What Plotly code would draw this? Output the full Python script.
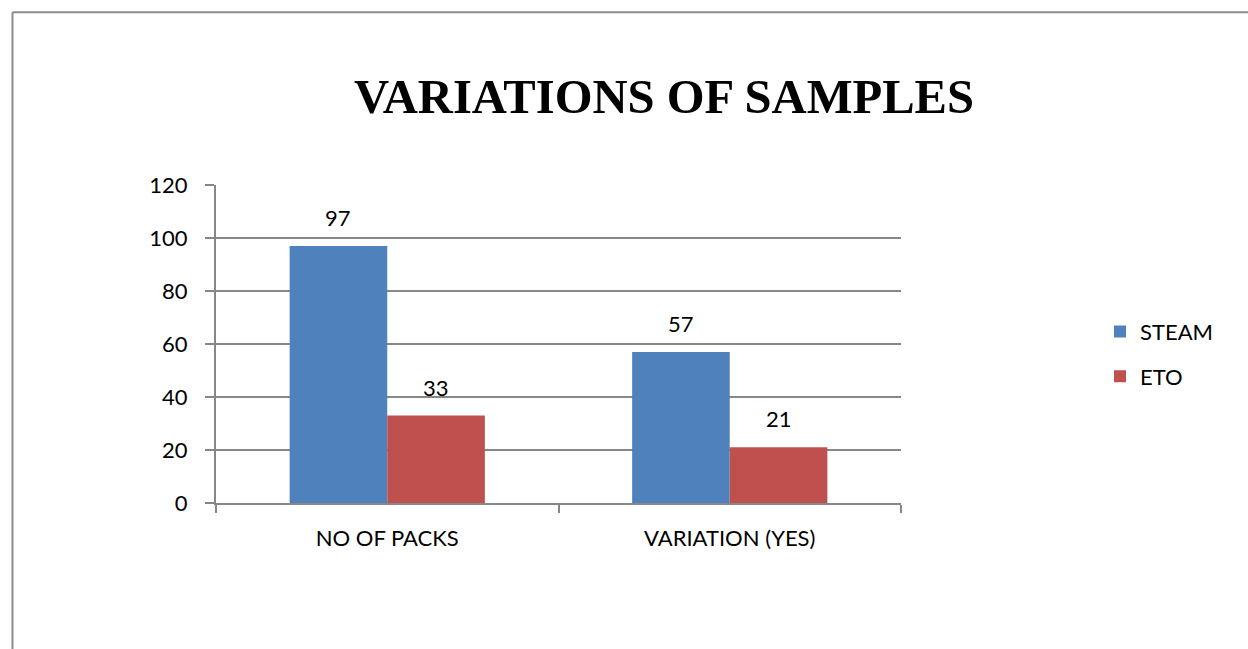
import plotly.graph_objects as go

# Chart data
categories = ["NO OF PACKS", "VARIATION (YES)"]
steam_values = [97, 57]
eto_values = [33, 21]
y_ticks = [0, 20, 40, 60, 80, 100, 120]

STEAM_COLOR = "#4F81BD"
ETO_COLOR = "#C0504D"
GRID = "#878787"
LABEL_FONT = "Lato"
FS = 22

W, H = 1248, 649
L, R, T, B = 216, 347, 185, 145.5
plot_w = W - L - R
plot_h = H - T - B

fig = go.Figure()
fig.add_trace(go.Bar(name="STEAM", x=categories, y=steam_values,
                     marker=dict(color=STEAM_COLOR, line=dict(width=0)),
                     legendgroup="a"))
fig.add_trace(go.Bar(name="ETO", x=categories, y=eto_values,
                     marker=dict(color=ETO_COLOR, line=dict(width=0)),
                     legendgroup="b"))

# value labels above each bar
bar_px = plot_w / 2 * 0.57 / 2
for vals, shift in ((steam_values, -bar_px / 2), (eto_values, bar_px / 2)):
    for cat, v in zip(categories, vals):
        fig.add_annotation(x=cat, y=v, text=str(v), showarrow=False,
                           xshift=shift, yshift=13, yanchor="bottom",
                           font=dict(family=LABEL_FONT, size=FS, color="#000"))

# outer frame (left and top edges)
def px_x(x):
    return (x - L) / plot_w

def px_y(y):
    return (H - B - y) / plot_h

fig.add_shape(type="line", xref="paper", yref="paper",
              x0=px_x(12.5), x1=px_x(12.5), y0=px_y(12), y1=px_y(660),
              line=dict(color="#8c8c8c", width=2))
fig.add_shape(type="line", xref="paper", yref="paper",
              x0=px_x(12.5), x1=px_x(1260), y0=px_y(12), y1=px_y(12),
              line=dict(color="#8c8c8c", width=2))

fig.update_layout(
    width=W, height=H,
    margin=dict(l=L, r=R, t=T, b=B, pad=0),
    paper_bgcolor="white", plot_bgcolor="white",
    barmode="group", bargap=0.43, bargroupgap=0,
    title=dict(text="<b>VARIATIONS OF SAMPLES</b>",
               font=dict(family="Liberation Serif", size=48.6, color="#000"),
               xref="container", yref="container",
               x=664 / W, xanchor="center", y=1 - 96 / H, yanchor="middle"),
    legend=dict(x=px_x(1100), y=px_y(311), xanchor="left", yanchor="top",
                traceorder="grouped", tracegroupgap=13,
                font=dict(family=LABEL_FONT, size=FS, color="#000"),
                bgcolor="rgba(0,0,0,0)"),
    font=dict(family=LABEL_FONT, size=FS, color="#000"),
)

fig.update_yaxes(range=[0, 120], tickvals=y_ticks, showgrid=True,
                 gridcolor=GRID, gridwidth=2, showline=True, linecolor=GRID,
                 linewidth=2, ticks="outside", ticklen=9, tickcolor=GRID,
                 tickwidth=2, zeroline=False, ticklabelstandoff=13,
                 tickfont=dict(family=LABEL_FONT, size=FS, color="#000"))
fig.update_xaxes(showline=True, linecolor=GRID, linewidth=2,
                 ticks="outside", tickson="boundaries", ticklen=8,
                 tickcolor=GRID, tickwidth=2, showgrid=False,
                 ticklabelstandoff=15,
                 tickfont=dict(family=LABEL_FONT, size=FS, color="#000"))

fig.write_html("out.html")
